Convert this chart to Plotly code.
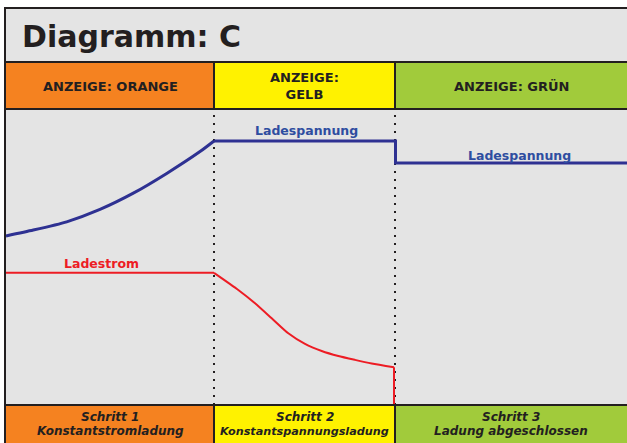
import plotly.graph_objects as go

W, H = 627, 443

# ---------------- data ----------------
phase_bounds = [0, 208, 389, 621]          # time units (phase boundaries)
phase_colors = ["#f58220", "#fff200", "#a1cb3b"]
header_labels = ["ANZEIGE: ORANGE", "ANZEIGE:<br>GELB", "ANZEIGE: GRÜN"]
footer_titles = ["Schritt 1", "Schritt 2", "Schritt 3"]
footer_subs = ["Konstantstromladung", "Konstantspannungsladung", "Ladung abgeschlossen"]

volt_t = [0, 27.3, 60.7, 94, 127.3, 160.7, 194, 208, 389.5, 389.5, 621]
volt_v = [57.3, 59.3, 62.1, 66.3, 71.8, 78.5, 85.9, 89.5, 89.5, 82.0, 82.0]

curr_t = [0, 208, 232.3, 249, 265.7, 282.3, 299, 315.7, 332.3, 349, 365.7, 388, 388]
curr_v = [44.8, 44.8, 39.0, 34.5, 29.4, 24.3, 20.7, 18.3, 16.6, 15.3, 14.1, 12.8, 0]

labels_text = ["Ladestrom", "Ladespannung", "Ladespannung"]
labels_t = [95, 300, 513]
labels_v = [47.8, 92.9, 84.7]
labels_col = ["#ed1c24", "#2e4da0", "#2e4da0"]

# ---------------- layout helpers ----------------
def fx(px):
    return px / W

def fy(py):
    return (H - py) / H

DARK = "#231f20"
GRAY = "#e4e4e4"
FONT = "DejaVu Sans"
BLUE = "#2e3192"
RED = "#ed1c24"
footer_sub_sizes = [12, 11.2, 12]

fig = go.Figure()

# voltage: rising curve (smoothed) then constant / step part
fig.add_trace(go.Scatter(x=volt_t[:8], y=volt_v[:8], mode="lines",
                         line=dict(color=BLUE, width=3, shape="spline", smoothing=0.6),
                         hoverinfo="skip"))
fig.add_trace(go.Scatter(x=volt_t[7:], y=volt_v[7:], mode="lines",
                         line=dict(color=BLUE, width=3), hoverinfo="skip"))
# current: constant part, falling curve (smoothed), drop
fig.add_trace(go.Scatter(x=curr_t[:2], y=curr_v[:2], mode="lines",
                         line=dict(color=RED, width=2), hoverinfo="skip"))
fig.add_trace(go.Scatter(x=curr_t[1:12], y=curr_v[1:12], mode="lines",
                         line=dict(color=RED, width=2, shape="spline", smoothing=0.6),
                         hoverinfo="skip"))
fig.add_trace(go.Scatter(x=curr_t[11:], y=curr_v[11:], mode="lines",
                         line=dict(color=RED, width=2), hoverinfo="skip"))

shapes = []
# gray background frame
shapes.append(dict(type="rect", xref="paper", yref="paper", x0=fx(5), x1=1, y0=0, y1=fy(8),
                   fillcolor=GRAY, line=dict(width=0), layer="below"))
# bands
for i in range(3):
    for (ya, yb) in [(62, 109), (405, 443)]:
        shapes.append(dict(type="rect", xref="x", yref="paper",
                           x0=phase_bounds[i], x1=phase_bounds[i + 1],
                           y0=fy(yb), y1=fy(ya), fillcolor=phase_colors[i],
                           line=dict(width=0), layer="below"))
# dotted phase lines in plot area
for b in phase_bounds[1:3]:
    shapes.append(dict(type="line", xref="x", yref="paper", x0=b, x1=b,
                       y0=fy(405), y1=fy(110),
                       line=dict(color=DARK, width=2, dash="2px,6px"), layer="below"))
# horizontal borders
for py in [8, 62, 109, 405]:
    shapes.append(dict(type="line", xref="paper", yref="paper", x0=fx(4), x1=1,
                       y0=fy(py), y1=fy(py), line=dict(color=DARK, width=2), layer="above"))
# left border
shapes.append(dict(type="line", xref="paper", yref="paper", x0=fx(5), x1=fx(5),
                   y0=0, y1=fy(7), line=dict(color=DARK, width=2), layer="above"))
# band dividers
for b in phase_bounds[1:3]:
    for (ya, yb) in [(62, 109), (405, 443)]:
        shapes.append(dict(type="line", xref="x", yref="paper", x0=b, x1=b,
                           y0=fy(yb), y1=fy(ya), line=dict(color=DARK, width=2), layer="above"))

annotations = []
annotations.append(dict(text="<b>Diagramm: C</b>", xref="paper", yref="paper",
                        x=fx(20), y=fy(37), xanchor="left", yanchor="middle", showarrow=False,
                        font=dict(family=FONT, size=30, color=DARK)))
for i in range(3):
    xc = (phase_bounds[i] + phase_bounds[i + 1]) / 2
    annotations.append(dict(text="<b>" + header_labels[i] + "</b>", xref="x", yref="paper",
                            x=xc, y=fy(86), xanchor="center", yanchor="middle", showarrow=False,
                            font=dict(family=FONT, size=13, color=DARK)))
    annotations.append(dict(text="<b><i>" + footer_titles[i] + "</i></b>", xref="x", yref="paper",
                            x=xc, y=fy(417), xanchor="center", yanchor="middle", showarrow=False,
                            font=dict(family=FONT, size=12, color=DARK)))
    annotations.append(dict(text="<b><i>" + footer_subs[i] + "</i></b>", xref="x", yref="paper",
                            x=xc, y=fy(431), xanchor="center", yanchor="middle", showarrow=False,
                            font=dict(family=FONT, size=footer_sub_sizes[i], color=DARK)))
for txt, t, v, c in zip(labels_text, labels_t, labels_v, labels_col):
    annotations.append(dict(text="<b>" + txt + "</b>", xref="x", yref="y", x=t, y=v,
                            xanchor="center", yanchor="middle", showarrow=False,
                            font=dict(family=FONT, size=12.5, color=c)))

fig.update_layout(
    width=W, height=H, autosize=False,
    margin=dict(l=0, r=0, t=0, b=0, pad=0),
    paper_bgcolor="white", plot_bgcolor="rgba(0,0,0,0)",
    showlegend=False,
    xaxis=dict(range=[-6, 621], domain=[0, 1], visible=False, fixedrange=True),
    yaxis=dict(range=[0, 100], domain=[fy(405), fy(110)], visible=False, fixedrange=True),
    shapes=shapes, annotations=annotations,
)

fig.write_html("out.html", config={"displayModeBar": False},
               post_script="document.body.style.margin='0';document.body.style.overflow='hidden';")
